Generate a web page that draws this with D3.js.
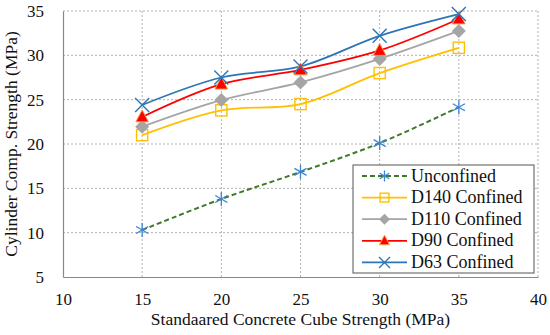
<!DOCTYPE html>
<meta charset="utf-8">
<style>
  body { margin: 0; background: #fff; }
</style>
<svg width="550" height="335"></svg>
<script src="https://d3js.org/d3.v7.min.js"></script>
<script>
var xs = [15, 20, 25, 30, 35];
var unconfined = [10.3, 13.8, 16.85, 20.1, 24.15];
var d140 = [21.0, 23.8, 24.5, 28.0, 30.85];
var d110 = [21.95, 24.95, 26.95, 29.6, 32.75];
var d90 = [23.05, 26.75, 28.35, 30.55, 34.1];
var d63 = [24.4, 27.5, 28.75, 32.2, 34.65];
var xTicks = [10, 15, 20, 25, 30, 35, 40];
var yTicks = [5, 10, 15, 20, 25, 30, 35];

var series = [
  {name: "Unconfined", values: unconfined, color: "#3f7a2a", marker: "star", mcolor: "#3d84d2", dash: "5,3"},
  {name: "D140 Confined", values: d140, color: "#ffc000", marker: "square", mcolor: "#ffc000"},
  {name: "D110 Confined", values: d110, color: "#a5a5a5", marker: "diamond", mcolor: "#a5a5a5"},
  {name: "D90 Confined", values: d90, color: "#ff0000", marker: "triangle", mcolor: "#ff0000"},
  {name: "D63 Confined", values: d63, color: "#2e75b6", marker: "x", mcolor: "#2e75b6"}
];

var font = "Liberation Serif";
var svg = d3.select("svg");
var x = d3.scaleLinear().domain([10, 40]).range([63, 538]);
var y = d3.scaleLinear().domain([5, 35]).range([277, 11]);

// grid
var grid = svg.append("g");
grid.selectAll(".gx").data(xTicks.slice(1)).enter().append("line")
  .attr("x1", function(d) { return x(d); }).attr("x2", function(d) { return x(d); })
  .attr("y1", y(35)).attr("y2", y(5));
grid.selectAll(".gy").data(yTicks.slice(1)).enter().append("line")
  .attr("x1", x(10)).attr("x2", x(40))
  .attr("y1", function(d) { return y(d); }).attr("y2", function(d) { return y(d); });
grid.selectAll("line").attr("stroke", "#b0b0b0").attr("stroke-dasharray", "2,2");

// axes
svg.append("g").attr("transform", "translate(0," + y(5) + ")")
  .call(d3.axisBottom(x).tickValues(xTicks).tickSize(0).tickPadding(16));
svg.append("g").attr("transform", "translate(" + x(10) + ",0)")
  .call(d3.axisLeft(y).tickValues(yTicks).tickSize(0).tickPadding(19));
svg.selectAll(".domain").attr("stroke", "#888").attr("stroke-width", 1.2);
svg.selectAll(".tick text").style("font-family", font).style("font-size", "17px").attr("fill", "#111");

svg.append("text").attr("x", x(25)).attr("y", 325).attr("text-anchor", "middle")
  .style("font-family", font).style("font-size", "17.5px").attr("fill", "#111")
  .text("Standaared Concrete Cube Strength (MPa)");
svg.append("text").attr("transform", "translate(17," + y(20) + ") rotate(-90)")
  .attr("text-anchor", "middle").style("font-family", font).style("font-size", "17.5px").attr("fill", "#111")
  .text("Cylinder Comp. Strength (MPa)");

var line = d3.line()
  .x(function(d, i) { return x(xs[i]); })
  .y(function(d) { return y(d); })
  .curve(d3.curveCatmullRom.alpha(0.5));

function drawMarker(g, s, cx, cy, r) {
  var m = g.append("g").attr("transform", "translate(" + cx + "," + cy + ")");
  if (s.marker === "star") {
    [0, 60, 120].forEach(function(a) {
      var rad = a * Math.PI / 180;
      m.append("line").attr("x1", -r * Math.sin(rad)).attr("y1", -r * Math.cos(rad))
        .attr("x2", r * Math.sin(rad)).attr("y2", r * Math.cos(rad))
        .attr("stroke", s.mcolor).attr("stroke-width", 1.3);
    });
  } else if (s.marker === "square") {
    m.append("rect").attr("x", -r * 0.8).attr("y", -r * 0.8).attr("width", r * 1.6).attr("height", r * 1.6)
      .attr("fill", "none").attr("stroke", s.mcolor).attr("stroke-width", 1.4);
  } else if (s.marker === "diamond") {
    m.append("path").attr("d", "M0," + (-r) + "L" + r + ",0L0," + r + "L" + (-r) + ",0Z")
      .attr("fill", s.mcolor);
  } else if (s.marker === "triangle") {
    m.append("path").attr("d", "M0," + (-r) + "L" + (r * 0.9) + "," + (r * 0.7) + "L" + (-r * 0.9) + "," + (r * 0.7) + "Z")
      .attr("fill", s.mcolor).attr("stroke", "#f79646").attr("stroke-width", 1);
  } else if (s.marker === "x") {
    m.append("path").attr("d", "M" + (-r) + "," + (-r) + "L" + r + "," + r + "M" + r + "," + (-r) + "L" + (-r) + "," + r)
      .attr("stroke", s.mcolor).attr("stroke-width", 1.4);
  }
}

series.forEach(function(s) {
  svg.append("path").datum(s.values).attr("d", line)
    .attr("fill", "none").attr("stroke", s.color).attr("stroke-width", s.dash ? 2 : 1.8)
    .attr("stroke-dasharray", s.dash || null);
});
series.forEach(function(s) {
  var g = svg.append("g");
  s.values.forEach(function(v, i) { drawMarker(g, s, x(xs[i]), y(v), 7); });
});

// legend
var lg = svg.append("g");
lg.append("rect").attr("x", 353).attr("y", 165).attr("width", 181).attr("height", 108)
  .attr("fill", "#fff").attr("stroke", "#555").attr("stroke-width", 1);
series.forEach(function(s, i) {
  var ly = 176 + i * 21.6;
  lg.append("line").attr("x1", 362).attr("x2", 407).attr("y1", ly).attr("y2", ly)
    .attr("stroke", s.color).attr("stroke-width", 1.8).attr("stroke-dasharray", s.dash || null);
  drawMarker(lg, s, 384.5, ly, 5.5);
  lg.append("text").attr("x", 411).attr("y", ly + 5.5).style("font-family", font).style("font-size", "18px")
    .attr("fill", "#111").text(s.name);
});
</script>
